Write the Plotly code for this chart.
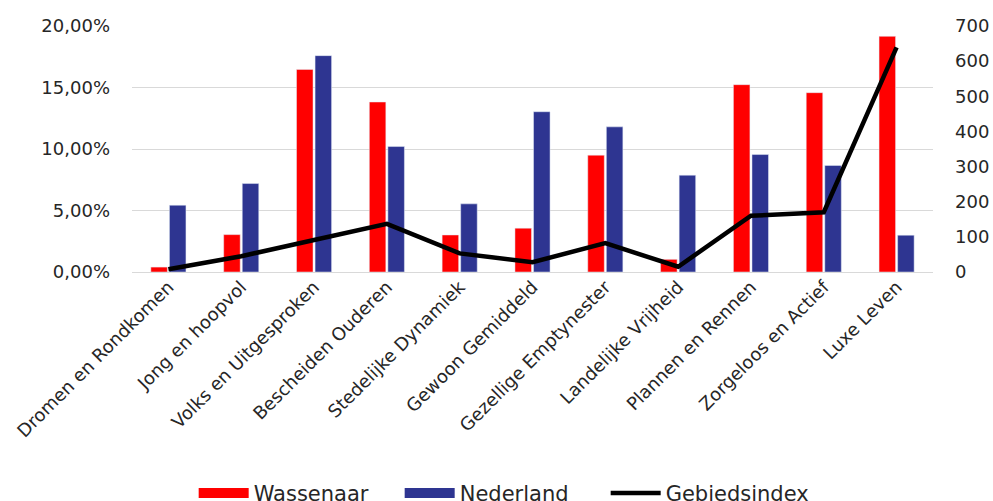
import plotly.graph_objects as go

categories = ["Dromen en Rondkomen", "Jong en hoopvol", "Volks en Uitgesproken",
              "Bescheiden Ouderen", "Stedelijke Dynamiek", "Gewoon Gemiddeld",
              "Gezellige Emptynester", "Landelijke Vrijheid", "Plannen en Rennen",
              "Zorgeloos en Actief", "Luxe Leven"]
wassenaar = [0.0040, 0.0304, 0.1647, 0.1382, 0.0301, 0.0356, 0.0950, 0.0103, 0.1523, 0.1458, 0.1916]
nederland = [0.0543, 0.0719, 0.1759, 0.1020, 0.0554, 0.1303, 0.1180, 0.0787, 0.0955, 0.0866, 0.0299]
gebiedsindex = [8, 45, 91, 137, 53, 28, 82, 15, 160, 170, 639]

left_ticks = [0, 0.05, 0.10, 0.15, 0.20]
right_ticks = [0, 100, 200, 300, 400, 500, 600, 700]

RED = "#FF0000"
BLUE = "#2E3591"
TXT = "#262626"
FONT = "DejaVu Sans"

fig = go.Figure()
fig.add_trace(go.Bar(x=categories, y=wassenaar, name="Wassenaar", marker_color=RED,
                     showlegend=False, yaxis="y"))
fig.add_trace(go.Bar(x=categories, y=nederland, name="Nederland", marker_color=BLUE,
                     showlegend=False, yaxis="y"))
fig.add_trace(go.Scatter(x=categories, y=gebiedsindex, name="Gebiedsindex", mode="lines",
                         line=dict(color="black", width=4.5), showlegend=False, yaxis="y2"))

# legend-only entries (wide swatches like the reference)
fig.add_trace(go.Scatter(x=[None], y=[None], name="Wassenaar", mode="lines",
                         line=dict(color=RED, width=16), yaxis="y"))
fig.add_trace(go.Scatter(x=[None], y=[None], name="Nederland", mode="lines",
                         line=dict(color=BLUE, width=16), yaxis="y"))
fig.add_trace(go.Scatter(x=[None], y=[None], name="Gebiedsindex", mode="lines",
                         line=dict(color="black", width=4.5), yaxis="y2"))

fig.update_layout(
    width=993, height=501, autosize=False,
    margin=dict(l=132, r=60, t=26, b=229, autoexpand=False),
    paper_bgcolor="white", plot_bgcolor="white",
    font=dict(family=FONT, size=18, color=TXT),
    separators=",.",
    barmode="group", bargap=0.49, bargroupgap=0.11,
    xaxis=dict(type="category", tickangle=-45, showgrid=False, ticks="",
               showline=False, tickfont=dict(size=18, color=TXT)),
    yaxis=dict(range=[0, 0.20], tickvals=left_ticks, tickformat=".2%",
               showgrid=True, gridcolor="#D9D9D9", gridwidth=1.3,
               zeroline=True, zerolinecolor="#D9D9D9", zerolinewidth=1.3,
               ticks="", ticklabelstandoff=21, showline=False),
    yaxis2=dict(range=[0, 700], tickvals=right_ticks, overlaying="y", side="right",
                showgrid=False, zeroline=False, ticks="", ticklabelstandoff=21,
                showline=False),
    legend=dict(orientation="h", x=0.077, xanchor="left", y=-0.9, yanchor="middle",
                font=dict(size=21, color=TXT), itemwidth=50, entrywidth=141,
                bgcolor="rgba(0,0,0,0)", traceorder="normal"),
)

fig.write_html("out.html")
